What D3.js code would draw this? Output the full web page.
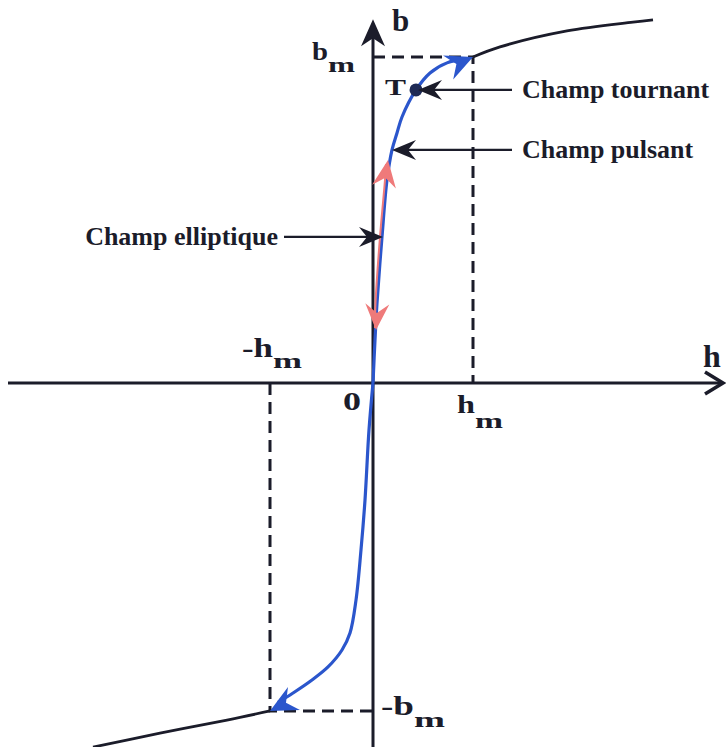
<!DOCTYPE html>
<html><head><meta charset="utf-8">
<script src="https://cdn.jsdelivr.net/npm/d3@7"></script>
<style>html,body{margin:0;padding:0;background:#fff;}svg{display:block;}</style>
</head><body>
<script>
// ---- data (h in units of hm, b in units of bm) ----
const hAxisRange = [-3.65, 3.5];
const bAxisRange = [-1.12, 1.116];
const hm = 1, bm = 1, hmNeg = -1.03;
const blueUpper = [[0,0],[0.02,0.132],[0.04,0.245],[0.09,0.448],[0.14,0.623],[0.19,0.715],[0.24,0.767],[0.29,0.816],[0.43,0.899],[0.57,0.951],[0.74,0.982],[1.0,1.0]];
const blueLower = [[0,0],[-0.04,-0.144],[-0.08,-0.359],[-0.12,-0.512],[-0.17,-0.666],[-0.23,-0.767],[-0.31,-0.819],[-0.45,-0.871],[-0.61,-0.911],[-0.80,-0.951],[-1.03,-1.006]];
const blackUpper = [[1.0,1.0],[1.27,1.031],[1.94,1.08],[2.6,1.107],[2.8,1.114]];
const blackLower = [[-1.03,-1.006],[-1.46,-1.034],[-2.13,-1.074],[-2.80,-1.117]];
const redSegment = [[0.04,0.169],[0.045,0.245],[0.09,0.448],[0.14,0.623],[0.15,0.672]];
const pointT = [0.43, 0.899];
const annotations = [
  {label:"Champ tournant", target:[0.45,0.899], side:"right"},
  {label:"Champ pulsant", target:[0.19,0.715], side:"right"},
  {label:"Champ elliptique", target:[0.10,0.448], side:"left"}
];

// ---- drawing ----
const W = 726, H = 747;
const svg = d3.select("body").append("svg").attr("width", W).attr("height", H);
const x = d3.scaleLinear().domain([0,1]).range([373,473]);
const y = d3.scaleLinear().domain([0,1]).range([383,57]);
const ink = "#1b1c2a", blue = "#2b56cc", red = "#ef7a7a";
const font = "'Liberation Serif','Times New Roman',serif";
const line = d3.line().x(d=>x(d[0])).y(d=>y(d[1])).curve(d3.curveCatmullRom.alpha(0.5));

function arrowHead(tip, from, len, hw, notch){
  const dx = tip[0]-from[0], dy = tip[1]-from[1], L = Math.hypot(dx,dy);
  const ux = dx/L, uy = dy/L, px = -uy, py = ux;
  const bx = tip[0]-len*ux, by = tip[1]-len*uy;
  const nx = tip[0]-(len-notch)*ux, ny = tip[1]-(len-notch)*uy;
  return `M${tip[0]},${tip[1]}L${bx+hw*px},${by+hw*py}L${nx},${ny}L${bx-hw*px},${by-hw*py}Z`;
}
const P = d => [x(d[0]), y(d[1])];

// axes
svg.append("line").attr("x1", x(hAxisRange[0])).attr("x2", x(hAxisRange[1])-2)
  .attr("y1", y(0)).attr("y2", y(0)).attr("stroke", ink).attr("stroke-width", 3);
svg.append("path").attr("d", `M${x(hAxisRange[1])-18},${y(0)-11}L${x(hAxisRange[1])},${y(0)}L${x(hAxisRange[1])-18},${y(0)+11}`)
  .attr("fill","none").attr("stroke", ink).attr("stroke-width", 3.5).attr("stroke-linejoin","miter");
svg.append("line").attr("x1", x(0)).attr("x2", x(0))
  .attr("y1", y(bAxisRange[0])).attr("y2", y(bAxisRange[1])+8).attr("stroke", ink).attr("stroke-width", 3);
svg.append("path").attr("d", arrowHead([x(0), y(bAxisRange[1])], [x(0), y(bAxisRange[1])+10], 27, 12, 8)).attr("fill", ink);

// dashed guides
const dash = {stroke: ink, "stroke-width": 3, "stroke-dasharray": "12,7", fill: "none"};
function dashed(pts){ const p = svg.append("path").attr("d", d3.line()(pts)); Object.entries(dash).forEach(([k,v])=>p.attr(k,v)); }
dashed([[x(0), y(bm)], [x(hm), y(bm)], [x(hm), y(0)]]);
dashed([[x(hmNeg), y(0)], [x(hmNeg), y(-bm)+2], [x(0), y(-bm)+2]]);

// black saturation curves
svg.append("path").attr("d", line(blackUpper)).attr("fill","none").attr("stroke", ink).attr("stroke-width", 2.8);
svg.append("path").attr("d", line(blackLower)).attr("fill","none").attr("stroke", ink).attr("stroke-width", 2.8);

// blue curves
svg.append("path").attr("d", line(blueUpper.slice(0,-1).concat([[0.93,0.994]]))).attr("fill","none").attr("stroke", blue).attr("stroke-width", 3.2);
svg.append("path").attr("d", line(blueLower.slice(0,-1).concat([[-0.95,-0.98]]))).attr("fill","none").attr("stroke", blue).attr("stroke-width", 3.2);
svg.append("path").attr("d", arrowHead(P(blueUpper[blueUpper.length-1]), [447,68], 27, 13, 9)).attr("fill", blue);
svg.append("path").attr("d", arrowHead(P(blueLower[blueLower.length-1]), [295,698], 27, 13, 9)).attr("fill", blue);

// red double arrow
const redLine = d3.line().x(d=>x(d[0])-2).y(d=>y(d[1])).curve(d3.curveCatmullRom);
svg.append("path").attr("d", redLine(redSegment)).attr("fill","none").attr("stroke", red).attr("stroke-width", 2);
const rTop = P(redSegment[redSegment.length-1]); rTop[1] -= 4;
svg.append("path").attr("d", arrowHead(rTop, [rTop[0]-3, rTop[1]+20], 27, 12, 9)).attr("fill", red);
const rBot = P(redSegment[0]); rBot[0] -= 1; rBot[1] += 2;
svg.append("path").attr("d", arrowHead(rBot, [rBot[0]+1, rBot[1]-20], 26, 12, 9)).attr("fill", red);

// point T
svg.append("circle").attr("cx", x(pointT[0])).attr("cy", y(pointT[1])).attr("r", 6.5).attr("fill", "#1e2a55");

// annotations
annotations.forEach(a => {
  const t = P(a.target);
  if (a.side === "right") {
    svg.append("line").attr("x1", 512).attr("x2", t[0]+15).attr("y1", t[1]).attr("y2", t[1]).attr("stroke", ink).attr("stroke-width", 2.2);
    svg.append("path").attr("d", arrowHead(t, [t[0]+10, t[1]], 24, 10, 8)).attr("fill", ink);
    svg.append("text").attr("x", 522).attr("y", t[1]+8).text(a.label)
      .attr("font-family", font).attr("font-weight","bold").attr("font-size", 26).attr("fill", ink);
  } else {
    svg.append("line").attr("x1", 284).attr("x2", t[0]-15).attr("y1", t[1]).attr("y2", t[1]).attr("stroke", ink).attr("stroke-width", 2.2);
    svg.append("path").attr("d", arrowHead(t, [t[0]-10, t[1]], 24, 10, 8)).attr("fill", ink);
    svg.append("text").attr("x", 278).attr("y", t[1]+8).attr("text-anchor","end").text(a.label)
      .attr("font-family", font).attr("font-weight","bold").attr("font-size", 26).attr("fill", ink);
  }
});

// labels
function lab(tx, ty, s, size, extra){
  const t = svg.append("text").attr("x", tx).attr("y", ty).text(s)
    .attr("font-family", font).attr("font-weight","bold").attr("font-size", size).attr("fill", ink);
  if (extra) t.attr("textLength", extra).attr("lengthAdjust","spacingAndGlyphs");
  return t;
}
lab(385, 95, "T", 24, 21);
lab(x(0)+19, 31, "b", 31);
lab(x(hAxisRange[1])-20, 367, "h", 32);
lab(x(0)-61, y(bm)+3, "b", 26, 16);
lab(x(0)-45, y(bm)+15, "m", 22, 27);
lab(242, 357, "-h", 27, 31);
lab(273, 368, "m", 22, 29);
lab(343, 410, "0", 25, 18);
lab(x(hm)-16, 413, "h", 26, 18);
lab(x(hm)+2, 428, "m", 22, 28);
lab(x(0)+8, y(-bm)+6, "-b", 27, 33);
lab(x(0)+41, y(-bm)+18, "m", 22, 31);
</script>
</body></html>
